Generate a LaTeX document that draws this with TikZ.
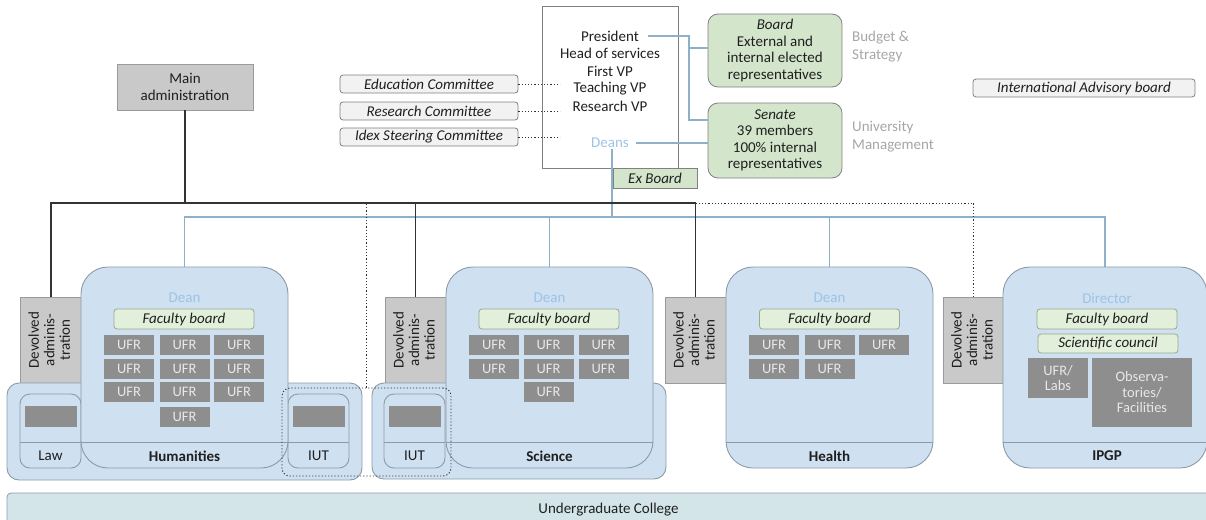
\documentclass[tikz,border=0pt]{standalone}
\usepackage{fontspec}
\usepackage{graphicx}
\setmainfont{Carlito}
\definecolor{facblue}{HTML}{CFE0F1}
\definecolor{boxedge}{HTML}{8C9BA8}
\definecolor{deanblue}{HTML}{9DC3E6}
\definecolor{fbgreen}{HTML}{E2EFDA}
\definecolor{fbedge}{HTML}{9AAA8C}
\definecolor{bgreen}{HTML}{D3E5CB}
\definecolor{ufrgray}{HTML}{8E8E8E}
\definecolor{ufrtext}{HTML}{E8E8E8}
\definecolor{devgray}{HTML}{C9C9C9}
\definecolor{devedge}{HTML}{9A9A9A}
\definecolor{comfill}{HTML}{F2F2F2}
\definecolor{ugfill}{HTML}{D4E5E9}
\definecolor{lineblue}{HTML}{8DB0CB}
\definecolor{linedark}{HTML}{333333}
\definecolor{txt}{HTML}{1F1F1F}
\definecolor{softgray}{HTML}{A6A6A6}
\newcommand{\devtext}{\rotatebox{90}{\begin{tabular}{@{}c@{}}Devolved\\[-2pt]adminis-\\[-2pt]tration\end{tabular}}}
\begin{document}
\begin{tikzpicture}[x=1pt,y=-1pt,
  font=\fontsize{15}{17.5}\selectfont, text=txt,
  blk/.style={draw=linedark,line width=1.3pt},
  bl/.style={draw=lineblue,line width=1.1pt},
  dotl/.style={draw=linedark,line width=0.9pt,dash pattern=on 1.2pt off 2pt},
  plain/.style={inner sep=1pt,align=center},
  fac/.style={draw=boxedge,fill=facblue,line width=0.9pt,rounded corners=27pt,inner sep=0pt,minimum width=207pt,minimum height=201pt},
  grp/.style={draw=boxedge,fill=facblue,line width=0.9pt,rounded corners=12pt,inner sep=0pt},
  sub/.style={draw=boxedge,fill=facblue,line width=0.9pt,rounded corners=10pt,inner sep=0pt,minimum width=61pt,minimum height=74pt},
  slab/.style={fill=ufrgray,inner sep=0pt,minimum width=52pt,minimum height=21pt},
  ufr/.style={fill=ufrgray,text=ufrtext,inner sep=0pt,minimum width=50pt,minimum height=20pt,font=\fontsize{14.5}{16.5}\selectfont},
  fboard/.style={draw=fbedge,fill=fbgreen,line width=0.8pt,rounded corners=3pt,inner sep=0pt,minimum width=140pt,minimum height=20pt,font=\fontsize{15}{17}\selectfont\itshape},
  devo/.style={draw=devedge,fill=devgray,line width=0.8pt,inner sep=0pt,minimum width=61pt,minimum height=86pt},
  comm/.style={draw=gray,fill=comfill,line width=0.8pt,rounded corners=3pt,inner sep=0pt,minimum height=18pt,font=\fontsize{15}{17}\selectfont\itshape},
  gov/.style={draw=gray,fill=bgreen,line width=0.8pt,rounded corners=10pt,inner sep=0pt,minimum width=134pt,align=center},
  dean/.style={inner sep=1pt,text=deanblue},
  flabel/.style={inner sep=1pt,font=\fontsize{15}{17}\selectfont\bfseries},
  sep/.style={draw=boxedge,line width=0.9pt}
]
\useasboundingbox (0,0) rectangle (1206,519);

% ---------- governance at the top ----------
\node[draw=gray,line width=0.8pt,minimum width=136pt,minimum height=162pt,inner sep=0pt] (presbox) at (610,87) {};
\node[plain] (pres) at (610,36) {President};
\node[plain] (head) at (610,53.5) {Head of services};
\node[plain] (fvp) at (610,71) {First VP};
\node[plain] (tvp) at (610,88.5) {Teaching VP};
\node[plain] (rvp) at (610,106) {Research VP};
\node[dean] (deans) at (610,143) {Deans};

\node[gov,minimum height=73pt] (board) at (775,50.5) {\textit{Board}\\[-1pt]External and\\[-1pt]internal elected\\[-1pt]representatives};
\node[gov,minimum height=75pt] (senate) at (775,140.5) {\textit{Senate}\\[-1pt]39 members\\[-1pt]100\% internal\\[-1pt]representatives};
\node[anchor=west,align=left,text=softgray,inner sep=0pt] (budget) at (852,46.5) {Budget \&\\Strategy};
\node[anchor=west,align=left,text=softgray,inner sep=0pt] (mgmt) at (852,136.5) {University\\Management};
\node[comm,minimum width=222pt] (iab) at (1084,88) {International Advisory board};

\node[comm,minimum width=178pt] (edu) at (429,84) {Education Committee};
\node[comm,minimum width=178pt] (res) at (429,111) {Research Committee};
\node[comm,minimum width=178pt] (idex) at (429,137) {Idex Steering Committee};
\coordinate (cdot) at (560,0);

\node[draw=gray,fill=bgreen,line width=0.8pt,inner sep=0pt,minimum width=84pt,minimum height=20pt,font=\fontsize{15}{17}\selectfont\itshape] (exb) at (655,178) {Ex Board};

\node[draw=devedge,fill=devgray,line width=0.8pt,inner sep=0pt,minimum width=136pt,minimum height=46pt,align=center] (madmin) at (185,87) {Main\\[-1pt]administration};

% bus levels
\coordinate (kbus) at (0,203);
\coordinate (bbus) at (0,217);
\coordinate (jB) at (689,48);
\coordinate (jS) at (689,120);

% ---------- devolved administrations ----------
\node[devo] (devHum) at (51,340) {\devtext};
\node[devo] (devSci) at (415.5,340) {\devtext};
\node[devo] (devHea) at (695.5,340) {\devtext};
\node[devo] (devIP) at (973.5,340) {\devtext};

% ---------- group containers ----------
\node[grp,minimum width=355pt,minimum height=97pt] (humgrp) at (184.5,431.5) {};
\node[grp,minimum width=294pt,minimum height=96pt] (scigrp) at (519,431) {};

% Law
\node[sub] (law) at (50.5,431) {};
\draw[sep] (law.west |- 0,442) -- (law.east |- 0,442);
\node[slab] (lawslab) at (50.5,416.5) {};
\node[plain] (lawlbl) at (50.5,456) {Law};

% IUT (humanities side)
\node[sub] (iutA) at (318.5,431) {};
\draw[sep] (iutA.west |- 0,442) -- (iutA.east |- 0,442);
\node[slab] (iutAslab) at (318.5,416.5) {};
\node[plain] (iutAlbl) at (318.5,456) {IUT};

% IUT (science side)
\node[sub] (iutB) at (414.5,431) {};
\draw[sep] (iutB.west |- 0,442) -- (iutB.east |- 0,442);
\node[slab] (iutBslab) at (414.5,416.5) {};
\node[plain] (iutBlbl) at (414.5,456) {IUT};

% ---------- Humanities ----------
\node[fac] (hum) at (184.5,367.5) {};
\draw[sep] (hum.west |- 0,442) -- (hum.east |- 0,442);
\node[dean] (humdean) at (184.5,298) {Dean};
\node[fboard] (humfb) at (184,319) {Faculty board};
\foreach \c [count=\i] in {129,184.5,239}{
  \foreach \r [count=\j] in {345,368.5,392}{
    \node[ufr] (hu\i\j) at (\c,\r) {UFR};
  }
}
\node[ufr] (hu24) at (184.5,416.5) {UFR};
\node[flabel] (humlbl) at (184.5,456) {Humanities};

% ---------- Science ----------
\node[fac] (sci) at (549.5,367.5) {};
\draw[sep] (sci.west |- 0,442) -- (sci.east |- 0,442);
\node[dean] (scidean) at (549.5,298) {Dean};
\node[fboard] (scifb) at (549,319) {Faculty board};
\foreach \c [count=\i] in {494,548.5,603.5}{
  \foreach \r [count=\j] in {345,368.5}{
    \node[ufr] (su\i\j) at (\c,\r) {UFR};
  }
}
\node[ufr] (su23) at (548.5,392) {UFR};
\node[flabel] (scilbl) at (549.5,456) {Science};

% ---------- Health ----------
\node[fac] (hea) at (829.5,367.5) {};
\draw[sep] (hea.west |- 0,442) -- (hea.east |- 0,442);
\node[dean] (headean) at (829.5,298) {Dean};
\node[fboard] (heafb) at (829.5,319) {Faculty board};
\node[ufr] (he11) at (774,345) {UFR};
\node[ufr] (he21) at (829.5,345) {UFR};
\node[ufr] (he31) at (884,345) {UFR};
\node[ufr] (he12) at (774,368.5) {UFR};
\node[ufr] (he22) at (829.5,368.5) {UFR};
\node[flabel] (healbl) at (829.5,456) {Health};

% ---------- IPGP ----------
\node[fac,minimum width=204pt] (ipgp) at (1105,367.5) {};
\draw[sep] (ipgp.west |- 0,442) -- (ipgp.east |- 0,442);
\node[dean] (ipdir) at (1107,298) {Director};
\node[fboard] (ipfb) at (1107,319) {Faculty board};
\node[fboard,minimum height=19pt] (ipsc) at (1108,343.5) {Scientific council};
\node[ufr,minimum width=60pt,minimum height=40pt,align=center] (iplabs) at (1058,378) {UFR/\\[-1pt]Labs};
\node[ufr,minimum width=100pt,minimum height=69pt,align=center] (ipobs) at (1142,392.5) {Observa-\\[-1pt]tories/\\[-1pt]Facilities};
\node[flabel] (iplbl) at (1107,456) {IPGP};

% dotted zone around both IUTs
\node[draw=linedark,line width=0.9pt,dash pattern=on 1.2pt off 2pt,rounded corners=8pt,minimum width=169pt,minimum height=88pt,inner sep=0pt] (iutzone) at (366.5,432) {};

% ---------- undergraduate college ----------
\node[draw=boxedge,fill=ugfill,line width=0.8pt,rounded corners=4pt,inner sep=0pt,minimum width=1203pt,minimum height=34pt] (ugc) at (608.5,510) {Undergraduate College};

% ---------- connectors ----------
\draw[bl] ([xshift=8pt]pres.east) -| (jS) -- (jS -| senate.west);
\draw[bl] (jB) -- (jB -| board.west);
\draw[bl] ([xshift=6pt]deans.east) -- (deans.east -| senate.west);
\draw[bl] ([xshift=2pt]deans.south) -- ([xshift=2pt]deans.south |- bbus);
\draw[bl] (hum.north) -- (hum.north |- bbus) -- (ipgp.north |- bbus) -- (ipgp.north);
\draw[bl] (sci.north) -- (sci.north |- bbus);
\draw[bl] (hea.north) -- (hea.north |- bbus);

\draw[blk] (madmin.south) -- (madmin.south |- kbus);
\draw[blk] (devHum.north) -- (devHum.north |- kbus) -- (devHea.north |- kbus) -- (devHea.north);
\draw[blk] (devSci.north) -- (devSci.north |- kbus);

\draw[dotl] (devHea.north |- kbus) -- (devIP.north |- kbus) -- (devIP.north);
\draw[dotl] (iutzone.north) -- (iutzone.north |- kbus);

\draw[dotl] (edu.east) -- (edu.east -| cdot);
\draw[dotl] (res.east) -- (res.east -| cdot);
\draw[dotl] (idex.east) -- (idex.east -| cdot);
\end{tikzpicture}
\end{document}
